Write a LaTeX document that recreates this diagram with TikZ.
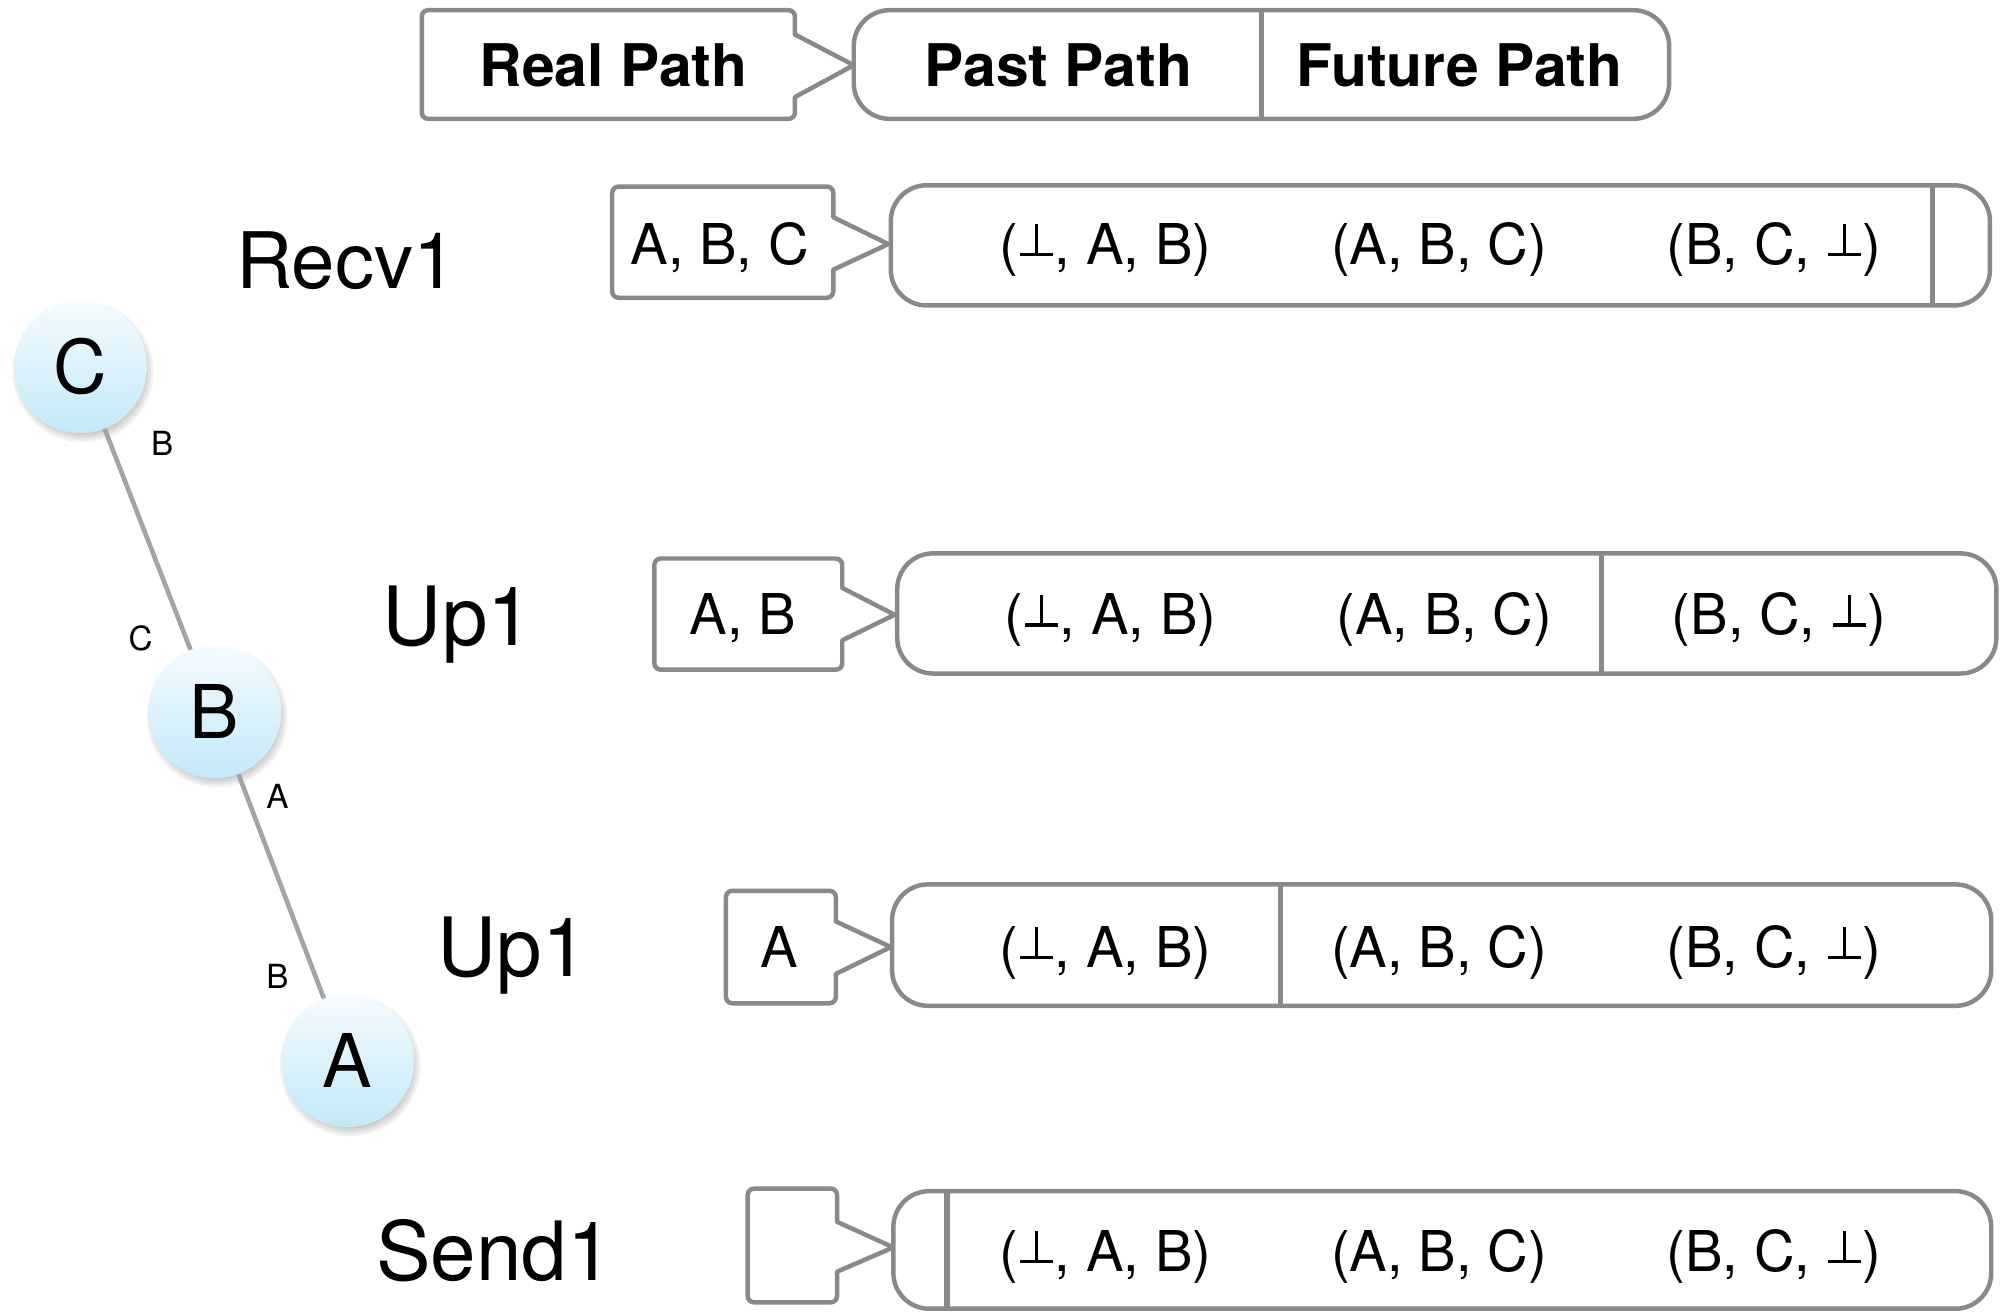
\documentclass[tikz,border=0pt]{standalone}
\usepackage{fontspec}
\usepackage{graphicx}
\setmainfont{TeX Gyre Heros}
\usetikzlibrary{calc}

\definecolor{boxgray}{RGB}{135,137,140}
\definecolor{edgegray}{RGB}{162,165,165}
\definecolor{nodetop}{RGB}{246,251,254}
\definecolor{nodebot}{RGB}{194,233,249}

% raised "bottom" symbol built from two rules
\newcommand\botsym{\kern1.5pt\raisebox{6.5pt}{\rlap{\rule{25.5pt}{2.6pt}}\kern11.45pt\rule{2.6pt}{25pt}}\kern11.45pt\kern1.5pt}

% rounded box with a pointer on its right side
% #1 left, #2 right, #3 bottom, #4 top, #5 notch low, #6 notch high, #7 tip x, #8 tip y
\newcommand\callout[8]{%
  \draw[frame] ({#1+5},#4) -- ({#2-5},#4)
    arc[start angle=90,end angle=0,radius=5pt] -- (#2,#6) -- (#7,#8) -- (#2,#5)
    -- (#2,{#3+5}) arc[start angle=0,end angle=-90,radius=5pt]
    -- ({#1+5},#3) arc[start angle=270,end angle=180,radius=5pt]
    -- (#1,{#4-5}) arc[start angle=180,end angle=90,radius=5pt] -- cycle;}

% long rounded bar split by one divider
% #1 left, #2 right, #3 bottom, #4 top, #5 divider x
\newcommand\pathbar[5]{%
  \draw[frame, rounded corners=28pt] (#1,#3) rectangle (#2,#4);
  \draw[divider] (#5,#3) -- (#5,#4);}

\tikzset{
  frame/.style={draw=boxgray, line width=3.5pt, line join=round, fill=white},
  divider/.style={draw=boxgray, line width=4.3pt},
  pathtxt/.style={font=\fontsize{44}{44}\selectfont, text height=31.7pt, text depth=0pt, inner sep=0pt},
  headtxt/.style={font=\bfseries\fontsize{46}{46}\selectfont, text height=33pt, text depth=0pt, inner sep=0pt},
  rowlabel/.style={font=\fontsize{#1}{#1}\selectfont, text height={0.72*#1}, text depth=0pt, inner sep=0pt},
  rowlabel/.default=62,
  vertex/.style={circle, minimum size=104pt, inner sep=0pt, top color=nodetop, bottom color=nodebot,
    font=\fontsize{58}{58}\selectfont, text height=41.7pt, text depth=0pt},
  edgelbl/.style={font=\fontsize{26}{26}\selectfont, text height=18.7pt, text depth=0pt, inner sep=0pt},
  link/.style={draw=edgegray, line width=3.6pt},
  softshadow/.style={fill=black, opacity=0.055}
}

\begin{document}
\begin{tikzpicture}[x=1pt,y=1pt]
\useasboundingbox (0,0) rectangle (1568,1027);

% ---------- legend ----------
\callout{330}{622}{934}{1019}{951}{1000}{668}{976}
\pathbar{668}{1306}{934}{1019}{987}
\node[headtxt] (hreal)   at (480,976)  {Real Path};
\node[headtxt] (hpast)   at (828,976)  {Past Path};
\node[headtxt] (hfuture) at (1142,976) {Future Path};

% ---------- Recv1 ----------
\node[rowlabel=61] (l1) at (271,823.5) {Recv1};
\callout{479}{652}{794}{881}{816}{857}{695}{836}
\pathbar{697}{1557}{788}{882}{1512}
\node[pathtxt] (r1real) at (563,836)  {A, B, C};
\node[pathtxt] (r1a)    at (865,836)  {(\botsym, A, B)};
\node[pathtxt] (r1b)    at (1126,836) {(A, B, C)};
\node[pathtxt] (r1c)    at (1388,836) {(B, C, \botsym)};

% ---------- Up1 (first) ----------
\node[rowlabel=64] (l2) at (358.5,545) {Up1};
\callout{512}{659}{503}{590}{526}{567}{700}{546}
\pathbar{702}{1562}{500}{594}{1253}
\node[pathtxt] (r2real) at (581,546)  {A, B};
\node[pathtxt] (r2a)    at (869,546)  {(\botsym, A, B)};
\node[pathtxt] (r2b)    at (1130,546) {(A, B, C)};
\node[pathtxt] (r2c)    at (1392,546) {(B, C, \botsym)};

% ---------- Up1 (second) ----------
\node[rowlabel=64] (l3) at (401,286) {Up1};
\callout{568}{654}{242}{330}{265}{306}{697}{286}
\pathbar{698}{1558}{240}{335}{1002}
\node[pathtxt] (r3real) at (610,286)  {A};
\node[pathtxt] (r3a)    at (865,286)  {(\botsym, A, B)};
\node[pathtxt] (r3b)    at (1126,286) {(A, B, C)};
\node[pathtxt] (r3c)    at (1388,286) {(B, C, \botsym)};

% ---------- Send1 ----------
\node[rowlabel=64] (l4) at (387,48) {Send1};
\callout{585}{655}{8}{97}{32}{71}{699}{51}
\pathbar{699}{1558}{3}{95}{741}
\node[pathtxt] (r4a) at (865,48)  {(\botsym, A, B)};
\node[pathtxt] (r4b) at (1126,48) {(A, B, C)};
\node[pathtxt] (r4c) at (1388,48) {(B, C, \botsym)};

% ---------- tree ----------
\coordinate (pC) at (63,740);
\coordinate (pB) at (168,470);
\coordinate (pA) at (272,197);
\foreach \p in {pC,pB,pA}{
  \foreach \r in {49,51,53,55}{
    \fill[softshadow] ([shift={(2,-4)}]\p) circle[radius=\r pt];
  }
}
\node[vertex] (C) at (pC) {C};
\node[vertex] (B) at (pB) {B};
\node[vertex] (A) at (pA) {A};
\draw[link] (C) -- (B);
\draw[link] (B) -- (A);
\node[edgelbl] (eCB1) at (127,680) {B};
\node[edgelbl] (eCB2) at (110,527) {C};
\node[edgelbl] (eBA1) at (217,404) {A};
\node[edgelbl] (eBA2) at (217,263) {B};
\end{tikzpicture}
\end{document}
